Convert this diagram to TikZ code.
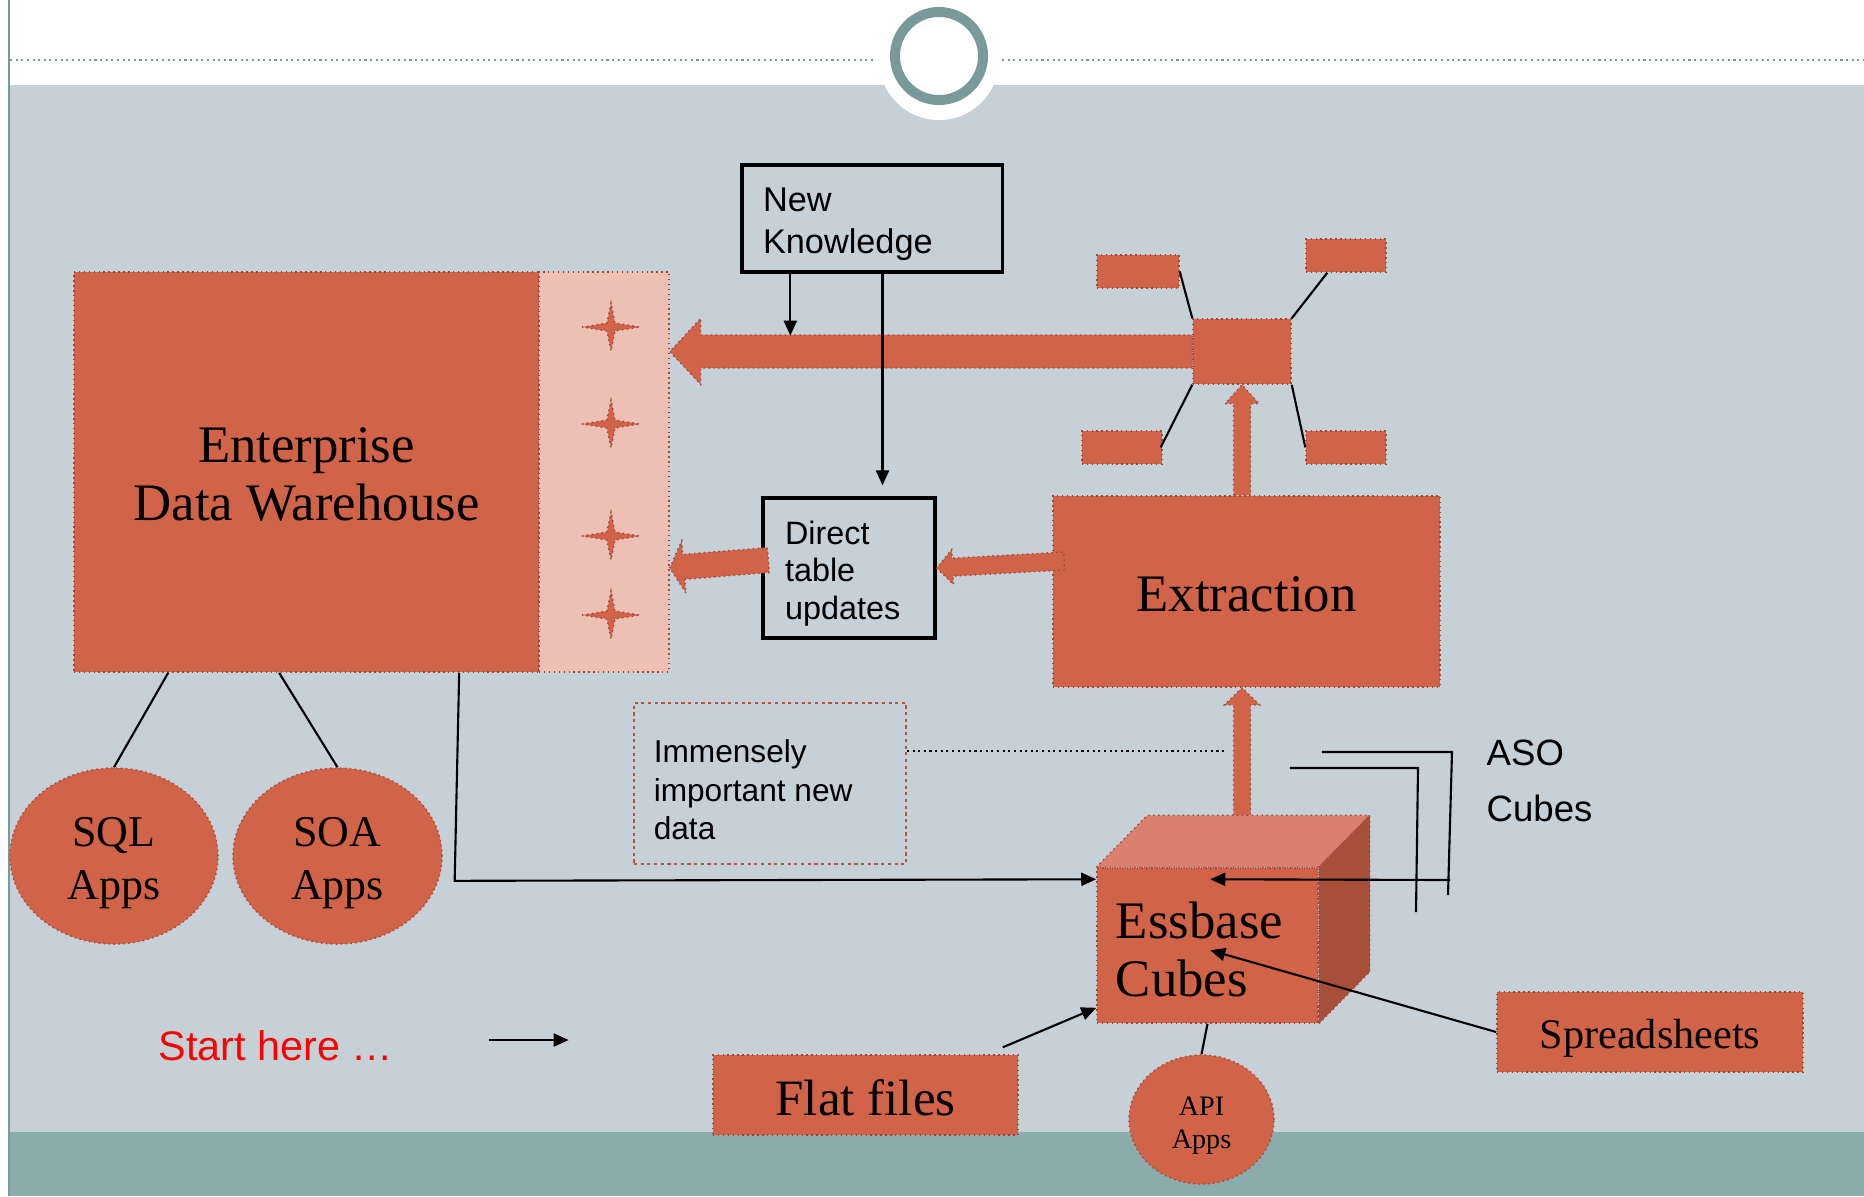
\documentclass[tikz,border=0pt]{standalone}
\usepackage{fontspec}
\setmainfont{Liberation Serif}
\newfontfamily\arialfont{Liberation Sans}
\usetikzlibrary{shapes.geometric,arrows.meta,calc}

\definecolor{slidegrey}{RGB}{197,209,215}
\definecolor{bandteal}{RGB}{139,172,172}
\definecolor{ringteal}{RGB}{122,154,154}
\definecolor{boxorange}{RGB}{209,99,73}
\definecolor{boxedge}{RGB}{160,70,55}
\definecolor{stripink}{RGB}{237,192,181}
\definecolor{topface}{RGB}{218,128,110}
\definecolor{sideface}{RGB}{168,79,58}

% block arrow: tail, tip, half shaft, half head, head length
\newcommand\fatarrow[5]{%
  \draw[fat] let \p1=($(#2)-(#1)$), \n1={atan2(\y1,\x1)}, \n2={veclen(\x1,\y1)} in
    ($(#1)+(\n1+90:#3)$) -- ($(#1)+(\n1:\n2-#5)+(\n1+90:#3)$)
    -- ($(#1)+(\n1:\n2-#5)+(\n1+90:#4)$) -- (#2)
    -- ($(#1)+(\n1:\n2-#5)+(\n1-90:#4)$) -- ($(#1)+(\n1:\n2-#5)+(\n1-90:#3)$)
    -- ($(#1)+(\n1-90:#3)$) -- cycle;}

\begin{document}
\begin{tikzpicture}[x=0.01cm,y=-0.01cm,
  ob/.style={rectangle,fill=boxorange,draw=boxedge,densely dotted,line width=0.4pt,inner sep=0pt},
  oe/.style={ellipse,fill=boxorange,draw=boxedge,densely dotted,line width=0.4pt,inner sep=0pt},
  kb/.style={rectangle,draw=black,line width=0.9pt,inner sep=0pt},
  fat/.style={fill=boxorange,draw=boxedge,densely dotted,line width=0.4pt},
  ln/.style={black,line width=0.6pt},
  ar/.style={ln,-{Triangle[length=0.15cm,width=0.13cm]}},
  tx/.style={inner sep=0pt,align=center},
  lt/.style={inner sep=0pt,align=left,anchor=west},
  big/.style={font=\fontsize{15}{16.5}\selectfont},
  ]

  % slide background
  \useasboundingbox (0,0) rectangle (1864,1196);
  \fill[white] (0,0) rectangle (1864,1196);
  \fill[slidegrey] (9,85) rectangle (1864,1132);
  \fill[bandteal] (9,1132) rectangle (1864,1196);
  \draw[ringteal,line width=0.3pt] (9,0) -- (9,1196);
  \draw[ringteal,densely dotted,line width=0.6pt] (10,60) -- (874,60);
  \draw[ringteal,densely dotted,line width=0.6pt] (1002,60) -- (1864,60);
  \fill[white] (939,60) circle (0.6cm);
  \draw[ringteal,line width=0.1cm] (939,56) circle (0.44cm);

  % warehouse
  \node[ob,minimum width=4.65cm,minimum height=4cm] (edw) at (306.5,472) {};
  \node[tx,big] (edwtext) at ($(edw)+(0,2.4)$) {Enterprise\\Data Warehouse};
  \node[ob,fill=stripink,minimum width=1.3cm,minimum height=4cm] (strip) at (604,472) {};
  \foreach \sy in {327,424,536,615}
    \draw[fat,shift={(611,\sy)}] (-29,0) -- (-4,-4) -- (0,-24) -- (4,-4) -- (29,0) -- (4,4) -- (0,24) -- (-4,4) -- cycle;

  \node[oe,minimum width=2.08cm,minimum height=1.76cm] (sql) at (114,856) {};
  \node[tx,font=\fontsize{12.5}{15.2}\selectfont] (sqltext) at ($(sql)+(0,7)$) {SQL\\Apps};
  \node[oe,minimum width=2.09cm,minimum height=1.76cm] (soa) at (337.5,856) {};
  \node[tx,font=\fontsize{12.5}{15.2}\selectfont] (soatext) at ($(soa)+(0,7)$) {SOA\\Apps};

  % hub
  \node[ob,minimum width=0.98cm,minimum height=0.65cm] (hub) at (1242,351.5) {};
  \node[ob,minimum width=0.82cm,minimum height=0.33cm] (tl) at (1138,271.5) {};
  \node[ob,minimum width=0.80cm,minimum height=0.33cm] (tr) at (1346,255.5) {};
  \node[ob,minimum width=0.80cm,minimum height=0.33cm] (bl) at (1122,447.5) {};
  \node[ob,minimum width=0.80cm,minimum height=0.33cm] (br) at (1346,447.5) {};

  \node[ob,minimum width=3.87cm,minimum height=1.91cm] (ext) at (1246.5,591.5) {};
  \node[tx,big] (exttext) at ($(ext)+(0,2.4)$) {Extraction};

  % cube
  \node[ob,minimum width=2.21cm,minimum height=1.55cm] (ess) at (1207.5,945.5) {};
  \node[lt,big] (esstext) at ($(ess.west)+(19,3.6)$) {Essbase\\Cubes};
  \coordinate (esstop) at ($(ess.north west)+(51,-52)$);
  \draw[fat,fill=topface] (ess.north west) -- (esstop) -- ($(ess.north east)+(51,-52)$) -- (ess.north east) -- cycle;
  \draw[fat,fill=sideface] (ess.north east) -- ($(ess.north east)+(51,-52)$) -- ($(ess.south east)+(51,-52)$) -- (ess.south east) -- cycle;

  \node[ob,minimum width=3.06cm,minimum height=0.8cm] (spr) at (1650,1032) {};
  \node[tx,font=\fontsize{12}{14}\selectfont] (sprtext) at ($(spr)+(0,6)$) {Spreadsheets};
  \node[ob,minimum width=3.05cm,minimum height=0.8cm] (flat) at (865.5,1095) {};
  \node[tx,font=\fontsize{14.5}{16}\selectfont] (flattext) at ($(flat)+(0,2.4)$) {Flat files};
  \node[oe,minimum width=1.45cm,minimum height=1.29cm] (api) at (1201.5,1119.5) {};
  \node[tx,font=\fontsize{8}{9.4}\selectfont] (apitext) at ($(api)+(0,6)$) {API\\Apps};

  % text boxes
  \node[kb,minimum width=2.6cm,minimum height=1.07cm] (nk) at (872,218.5) {};
  \node[lt,font=\arialfont\fontsize{9.75}{12}\selectfont] (nktext) at ($(nk.west)+(22,6)$) {New\\Knowledge};
  \node[kb,minimum width=1.72cm,minimum height=1.4cm] (dtu) at (849,568) {};
  \node[lt,font=\arialfont\fontsize{9.2}{10.7}\selectfont] (dtutext) at ($(dtu.west)+(23,5.3)$) {Direct\\table\\updates};
  \node[kb,draw=boxorange!85!black,densely dotted,line width=0.5pt,minimum width=2.72cm,minimum height=1.61cm] (imp) at (770,783.5) {};
  \node[lt,font=\arialfont\fontsize{9}{11}\selectfont] (imptext) at ($(imp.west)+(20,6.2)$) {Immensely\\important new\\data};
  \node[lt,font=\arialfont\fontsize{10.4}{16}\selectfont] (aso) at (1486,781) {ASO\\Cubes};
  \node[lt,text=red,font=\arialfont\fontsize{11.75}{14}\selectfont] (start) at (158,1046) {Start here …};

  % block arrows
  \coordinate (a1tip) at (strip.east |- hub.west);
  \fatarrow{hub.west}{a1tip}{4.7pt}{9.4pt}{8.8pt}
  \coordinate (a2tail) at (hub.south |- ext.north);
  \fatarrow{a2tail}{hub.south}{2.42pt}{4.84pt}{5.4pt}
  \coordinate (a3tail) at (hub.south |- esstop);
  \coordinate (a3tip) at (hub.south |- ext.south);
  \fatarrow{a3tail}{a3tip}{2.42pt}{4.98pt}{4.84pt}
  \coordinate (a4tail) at ($(ext.west)+(12,-30.5)$);
  \fatarrow{a4tail}{dtu.east}{2.56pt}{4.98pt}{4.55pt}
  \coordinate (a5tail) at ($(dtu.west)+(7,-8)$);
  \coordinate (a5tip) at (strip.east |- dtu.west);
  \fatarrow{a5tail}{a5tip}{3.56pt}{7.4pt}{4pt}

  % connectors
  \draw[ln] (tl.east) -- (hub.north west);
  \draw[ln] ($(tr.south west)+(22,0)$) -- (hub.north east);
  \draw[ln] (hub.south west) -- ($(bl.north east)+(-2,17)$);
  \draw[ln] (hub.south east) -- ($(br.north west)+(0,17)$);
  \draw[ar] ($(nk.south west)+(50,0)$) -- ++(0,62);
  \draw[ar] ($(nk.south)+(10.5,-4)$) -- ($(dtu.north)+(33.5,-11)$);
  \draw[ln] ($(edw.south west)+(95,0)$) -- (sql.north);
  \draw[ln] ($(edw.south west)+(206,0)$) -- (soa.north);
  \draw[ar] ($(edw.south west)+(386,0)$) -- ++(-4.5,208) -- ($(ess.north west)+(0,12)$);
  \draw[ln,densely dotted] ($(imp.north east)+(0,49)$) -- ++(320,0);
  \draw[ln] ($(aso.west)+(-164,-29)$) -- ++(130,0) -- ++(-4,143);
  \draw[ln] ($(aso.west)+(-196,-13)$) -- ++(128,0) -- ++(-2,144);
  \draw[ar] ($(aso.west)+(-36,99)$) -- ($(ess.north west)+(114,12)$);
  \draw[ar] (spr.west) -- ($(ess.north west)+(114,83)$);
  \draw[ar] ($(flat.north east)+(-16,-7)$) -- ($(ess.south west)+(0,-16)$);
  \draw[ln] (ess.south) -- (api.north);
  \draw[ar] ($(start.east)+(95,-6)$) -- ++(80,0);

\end{tikzpicture}
\end{document}
